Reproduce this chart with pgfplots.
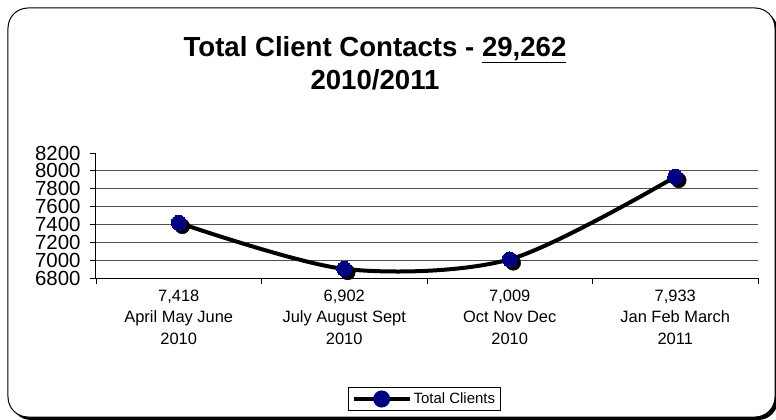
\documentclass[border=0pt]{standalone}
\usepackage{pgfplots}
\pgfplotsset{compat=1.18}
\usepackage{fontspec}
\setmainfont{Liberation Sans}
\definecolor{navy}{RGB}{0,0,128}
\definecolor{gridc}{RGB}{80,80,80}
\begin{document}
\begin{tikzpicture}
% outer frame with shadow
\fill[black] (-85bp,-142bp) [rounded corners=20bp] rectangle (682bp,267bp);
\filldraw[fill=white, draw=black, line width=1bp, rounded corners=20bp] (-88bp,-139bp) rectangle (679bp,270bp);
\begin{axis}[
    at={(0,0)}, anchor=south west,
    scale only axis,
    width=662bp, height=125bp,
    xmin=-0.5, xmax=3.5,
    ymin=6800, ymax=8200,
    axis x line*=bottom, axis y line*=left,
    axis line style={black, line width=1bp, -},
    xtick={-0.5,0.5,1.5,2.5,3.5},
    xticklabels={},
    extra x ticks={0,1,2,3},
    extra x tick labels={{7,418\\April May June\\2010},{6,902\\July August Sept\\2010},{7,009\\Oct Nov Dec\\2010},{7,933\\Jan Feb March\\2011}},
    extra x tick style={major tick length=0pt, grid=none},
    ytick={6800,7000,...,8000},
    extra y ticks={8200},
    extra y tick style={grid=none},
    ymajorgrids,
    major grid style={gridc, line width=0.8bp},
    tick align=outside,
    major tick length=6bp,
    tick style={black, line width=0.8bp},
    xticklabel style={align=center, font=\fontsize{16.5}{22}\selectfont, yshift=-8bp},
    yticklabel style={font=\fontsize{20.5}{20}\selectfont, xshift=-6bp, inner ysep=0pt},
    /pgf/number format/assume math mode=true,
    /pgf/number format/1000 sep={},
    clip=false,
    legend style={at={(0.496,-0.968)}, anchor=center, draw=black, line width=0.8bp,
        font=\fontsize{15}{15}\selectfont, inner sep=3bp},
    legend image code/.code={
        \draw[black, line width=4bp] (0bp,0bp) -- (56bp,0bp);
        \fill[navy] (28bp,0bp) circle (6.5bp);
    },
]
\addplot[forget plot, only marks, mark=*, mark size=7.5bp, black,
    mark options={xshift=3.5bp, yshift=-3.5bp}]
    coordinates {(0,7418) (1,6902) (2,7009) (3,7933)};
\addplot[black, line width=4bp, smooth, mark=*, mark size=7.5bp,
    mark options={fill=navy, draw=navy, line width=0pt}]
    coordinates {(0,7418) (1,6902) (2,7009) (3,7933)};
\addlegendentry{Total Clients}
\end{axis}
\node[font=\bfseries\fontsize{27.7}{33}\selectfont, anchor=base] at (279bp,221bp) {Total Client Contacts - \underline{29,262}};
\node[font=\bfseries\fontsize{27.7}{33}\selectfont, anchor=base] at (279bp,188bp) {2010/2011};
\pgfresetboundingbox
\path[use as bounding box] (-96bp,-142bp) rectangle (680bp,278bp);
\end{tikzpicture}
\end{document}
